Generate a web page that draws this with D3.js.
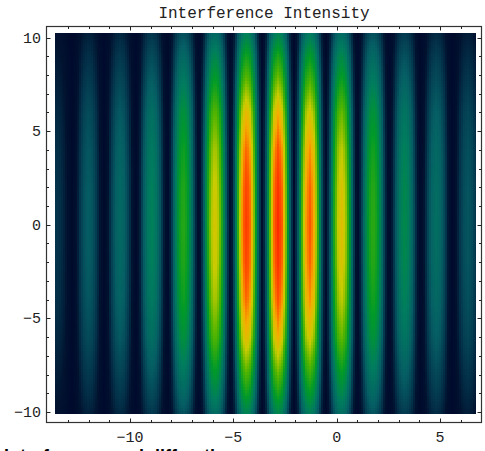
<!DOCTYPE html>
<html>
<head>
<meta charset="utf-8">
<script src="https://cdn.jsdelivr.net/npm/d3@7"></script>
<style>
  body { margin: 0; background: #fff; }
  text { font-family: "Liberation Mono", "DejaVu Sans Mono", monospace; fill: #222; }
</style>
</head>
<body>
<script>
// fringe centres (x), peak intensity at y = 0
var fringeX    = [-13.54, -12.01, -10.48, -8.95, -7.42, -5.89, -4.36, -2.83, -1.30, 0.23, 1.76, 3.29, 4.82, 6.35];
var fringePeak = [0.12, 0.22, 0.26, 0.35, 0.52, 0.74, 0.97, 1.00, 0.91, 0.76, 0.53, 0.38, 0.28, 0.20];
var fringePeriod = 1.53;
// relative intensity across one period, from one minimum to just before the next
var fringeShape = [0, 0.22, 0.62, 0.9, 1, 0.9, 0.62, 0.22];
// vertical envelope
var envY = [-10.5, -10, -9, -8, -6, -4, -2, 0, 2, 4, 6, 8, 9, 10, 10.5];
var envV = [0.33, 0.38, 0.50, 0.60, 0.80, 0.92, 0.98, 1, 0.98, 0.92, 0.80, 0.60, 0.50, 0.38, 0.33];
var xTicks = d3.range(-13, 7);
var yTicks = d3.range(-10, 11);
var labelTicks = [-10, -5, 0, 5, 10];

var colorStops = [0, 0.05, 0.12, 0.22, 0.33, 0.45, 0.58, 0.7, 0.8, 0.9, 1];
var colorRange = ["#000a2c", "#01122f", "#03344c", "#055e64", "#007c5e", "#009a28", "#50b400", "#c8cc00", "#f4ae00", "#ff5800", "#ff2800"];

var W = 485, H = 451;
// image edges in data units
var xMin = -13.63, xMax = 6.74, yMin = -10.12, yMax = 10.22;

var x = d3.scaleLinear().domain([-10, 5]).range([130, 440]);
var y = d3.scaleLinear().domain([-10, 10]).range([412, 37.5]);
var color = d3.scaleLinear().domain(colorStops).range(colorRange).clamp(true);

// column profile built from the fringe arrays
var profX = [], profI = [];
fringeX.forEach(function(c, i) {
    fringeShape.forEach(function(s, k) {
        profX.push(c + (k - 4) * fringePeriod / 8);
        profI.push(fringePeak[i] * s);
    });
});
profX.push(fringeX[fringeX.length - 1] + fringePeriod / 2);
profI.push(0);
var colProfile = d3.scaleLinear().domain(profX).range(profI).clamp(true);
var rowEnv = d3.scaleLinear().domain(envY).range(envV).clamp(true);

var svg = d3.select("body").append("svg")
    .attr("width", W)
    .attr("height", H);

// cells on a pixel grid, values looked up through the scales
var cw = 2, ch = 3;
var x0 = Math.round(x(xMin)), x1 = Math.round(x(xMax));
var y0 = Math.round(y(yMax)), y1 = Math.round(y(yMin));
var cells = [];
d3.range(y0, y1, ch).forEach(function(py) {
    d3.range(x0, x1, cw).forEach(function(px) {
        cells.push({px: px, py: py,
            w: Math.min(cw, x1 - px), h: Math.min(ch, y1 - py),
            v: colProfile(x.invert(px + cw / 2)) * rowEnv(y.invert(py + ch / 2))});
    });
});

svg.append("g")
    .attr("class", "density")
    .attr("shape-rendering", "crispEdges")
    .selectAll("rect")
    .data(cells)
    .enter().append("rect")
    .attr("x", function(d) { return d.px; })
    .attr("y", function(d) { return d.py; })
    .attr("width", function(d) { return d.w; })
    .attr("height", function(d) { return d.h; })
    .attr("fill", function(d) { return color(d.v); });

// frame
var fl = 46.5, fr = 481.5, ft = 26.5, fb = 422.5;
svg.append("rect")
    .attr("x", fl).attr("y", ft)
    .attr("width", fr - fl).attr("height", fb - ft)
    .attr("fill", "none")
    .attr("stroke", "#333")
    .attr("stroke-width", 1.2);

function tickLen(v) { return v % 5 === 0 ? 4 : 2.5; }

var ticks = svg.append("g").attr("stroke", "#222").attr("stroke-width", 1);
xTicks.forEach(function(v) {
    var px = Math.round(x(v)) + 0.5;
    ticks.append("line").attr("x1", px).attr("x2", px).attr("y1", fb).attr("y2", fb - tickLen(v));
    ticks.append("line").attr("x1", px).attr("x2", px).attr("y1", ft).attr("y2", ft + tickLen(v));
});
yTicks.forEach(function(v) {
    var py = Math.round(y(v)) + 0.5;
    ticks.append("line").attr("x1", fl).attr("x2", fl + tickLen(v)).attr("y1", py).attr("y2", py);
    ticks.append("line").attr("x1", fr).attr("x2", fr - tickLen(v)).attr("y1", py).attr("y2", py);
});

var fmt = d3.format("d");
svg.append("g").selectAll("text")
    .data(labelTicks.filter(function(v) { return v >= -13 && v <= 6; }))
    .enter().append("text")
    .attr("x", function(d) { return x(d); })
    .attr("y", 442)
    .attr("text-anchor", "middle")
    .style("font-size", "15px")
    .text(function(d) { return fmt(d); });

svg.append("g").selectAll("text")
    .data(labelTicks)
    .enter().append("text")
    .attr("x", 41)
    .attr("y", function(d) { return y(d) + 5; })
    .attr("text-anchor", "end")
    .style("font-size", "15px")
    .text(function(d) { return fmt(d); });

svg.append("text")
    .attr("x", (fl + fr) / 2)
    .attr("y", 18)
    .attr("text-anchor", "middle")
    .style("font-size", "16px")
    .text("Interference Intensity");

// caption below the plot, cut off by the window edge as in the reference
svg.append("text")
    .attr("x", 4)
    .attr("y", 462)
    .style("font-family", "Liberation Sans, Arial, sans-serif")
    .style("font-weight", "bold")
    .style("font-size", "18px")
    .style("fill", "#000")
    .text("Interference and diffraction");
</script>
</body>
</html>
